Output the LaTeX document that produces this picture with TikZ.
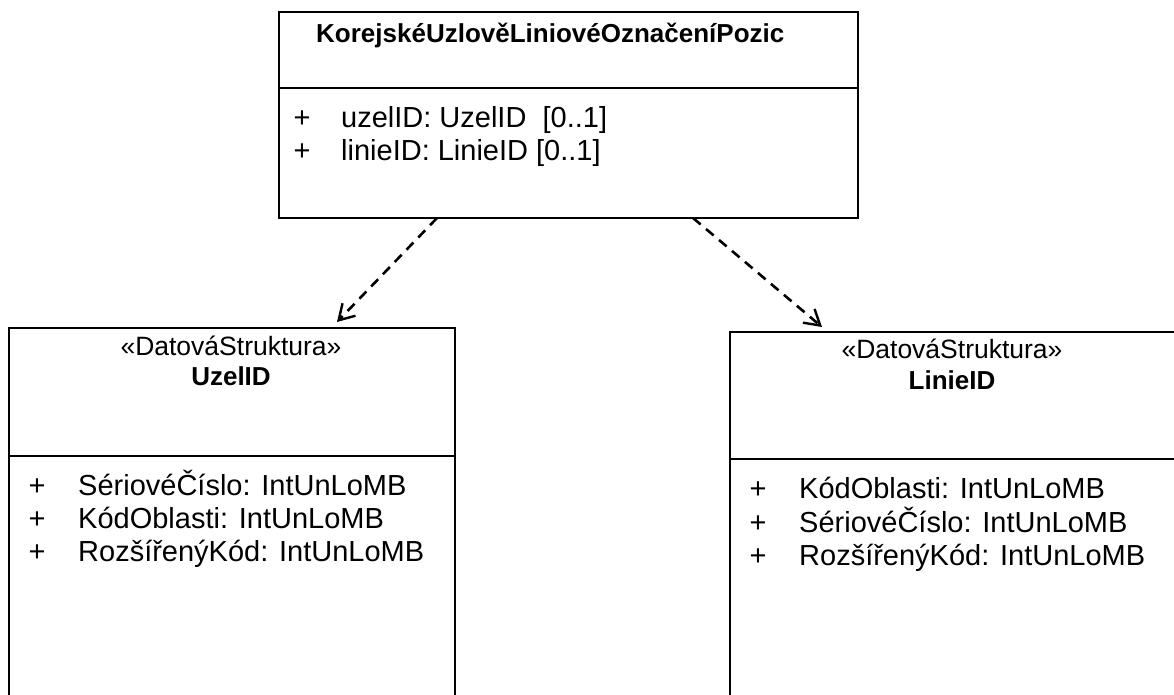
\documentclass[tikz,border=0pt]{standalone}
\usepackage{fontspec}
\setmainfont{Liberation Sans}
\usetikzlibrary{arrows.meta}
\begin{document}
\begin{tikzpicture}[x=1pt,y=-1pt]
\tikzset{
 umlbox/.style={draw, line width=2pt, rectangle, anchor=north west, inner sep=0pt},
 attr/.style={anchor=base west, inner sep=0pt, font=\fontsize{29}{33}\selectfont},
 plus/.style={anchor=base, inner sep=0pt, font=\fontsize{29}{33}\selectfont},
 stereo/.style={anchor=base, inner sep=0pt, font=\fontsize{26.5}{30}\selectfont},
 cname/.style={anchor=base, inner sep=0pt, font=\bfseries\fontsize{26}{30}\selectfont},
 ctitle/.style={anchor=base west, inner sep=0pt, font=\bfseries\fontsize{26}{30}\selectfont},
 dep/.style={line width=2.6pt, dash pattern=on 10pt off 7pt, -{Straight Barb[length=15pt,width=18pt,line width=2.4pt]}},
 divider/.style={line width=2pt}
}
\fill[white] (0,0) rectangle (1174,695);
\useasboundingbox (0,0) rectangle (1174,695);
\clip (0,0) rectangle (1174,695);

% top class
\node[umlbox, minimum width=579pt, minimum height=206pt] (top) at (278,11) {};
\draw[divider] (278,88) -- (857,88);
\node[ctitle] (toptitle) at (316,42.5) {KorejskéUzlověLiniovéOznačeníPozic};
\node[plus] (tp1) at (302,127.5) {+};
\node[attr] (ta1) at (341,127.5) {uzelID: UzelID\ \ [0..1]};
\node[plus] (tp2) at (302,160.5) {+};
\node[attr] (ta2) at (341,160.5) {linieID: LinieID [0..1]};

% left class
\node[umlbox, minimum width=446pt, minimum height=420pt] (left) at (8,327) {};
\draw[divider] (8,456) -- (454,456);
\node[stereo] (lst) at (231,355.5) {«DatováStruktura»};
\node[cname] (lname) at (231,385) {UzelID};
\node[plus] (lp1) at (37,495.5) {+};
\node[attr] (la1) at (78,495.5) {SériovéČíslo: IntUnLoMB};
\node[plus] (lp2) at (37,528.5) {+};
\node[attr] (la2) at (78,528.5) {KódOblasti: IntUnLoMB};
\node[plus] (lp3) at (37,561.5) {+};
\node[attr] (la3) at (78,561.5) {RozšířenýKód: IntUnLoMB};

% right class
\node[umlbox, minimum width=450pt, minimum height=420pt] (right) at (729,331) {};
\draw[divider] (729,459) -- (1180,459);
\node[stereo] (rst) at (952,358.5) {«DatováStruktura»};
\node[cname] (rname) at (952,389) {LinieID};
\node[plus] (rp1) at (758,498.5) {+};
\node[attr] (ra1) at (799,498.5) {KódOblasti: IntUnLoMB};
\node[plus] (rp2) at (758,532) {+};
\node[attr] (ra2) at (799,532) {SériovéČíslo: IntUnLoMB};
\node[plus] (rp3) at (758,565.5) {+};
\node[attr] (ra3) at (799,565.5) {RozšířenýKód: IntUnLoMB};

% dependencies
\coordinate (s1) at (437,218);
\coordinate (t1) at (337,322);
\coordinate (s2) at (693,218);
\coordinate (t2) at (822,327);
\draw[dep] (s1) -- (t1);
\draw[dep] (s2) -- (t2);
\end{tikzpicture}
\end{document}
